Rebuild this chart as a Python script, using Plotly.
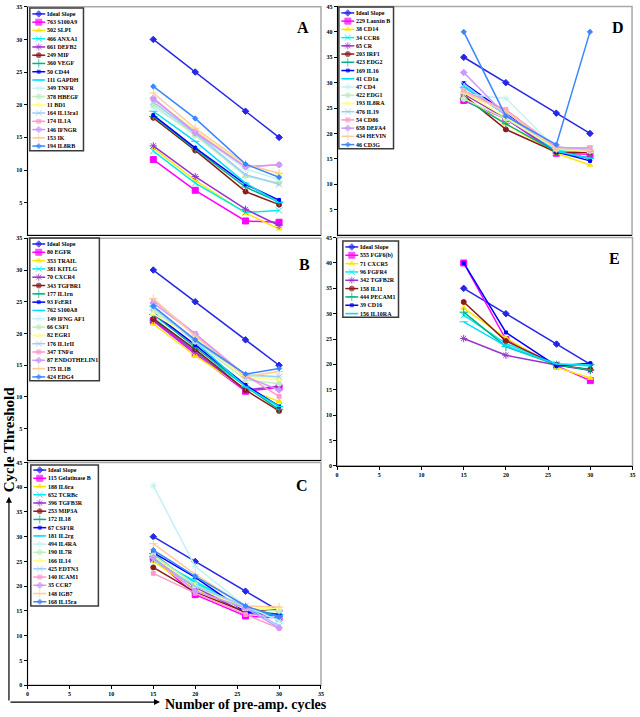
import plotly.graph_objects as go

# ---------------- data ----------------
cycles = [15, 20, 26, 30]

a_names = ["Ideal Slope", "763 S100A9", "502 SLPI", "466 ANXA1", "661 DEFB2", "249 MIF",
           "360 VEGF", "50 CD44", "111 GAPDH", "349 TNFR", "378 HBEGF", "11 BD1",
           "164 IL13ra1", "174 IL1A", "146 IFNGR", "153 IK", "194 IL8RB"]
a_values = [
    [30.0, 25.0, 19.0, 15.0],
    [11.6, 6.9, 2.2, 2.0],
    [13.4, 8.4, 3.4, 1.0],
    [12.9, 8.0, 3.5, 3.8],
    [13.7, 9.0, 4.0, 1.5],
    [18.0, 13.0, 6.7, 4.7],
    [18.2, 13.2, 7.4, 5.1],
    [18.4, 13.4, 7.8, 5.4],
    [19.0, 14.4, 8.0, 5.0],
    [19.6, 15.6, 10.2, 8.5],
    [20.0, 15.3, 9.1, 8.0],
    [20.9, 16.1, 10.8, 9.5],
    [20.4, 15.6, 9.3, 7.8],
    [20.8, 15.9, 10.5, 10.8],
    [21.0, 15.7, 10.5, 10.8],
    [21.8, 16.4, 10.9, 9.5],
    [22.8, 17.9, 10.9, 8.9],
]

b_names = ["Ideal Slope", "80 EGFR", "353 TRAIL", "381 KITLG", "70 CXCR4", "343 TGFBR1",
           "177 IL1rn", "93 FcERI", "762 S100A8", "149 IFNG AF1", "66 CSF1", "82 EGR1",
           "176 IL1rII", "347 TNFα", "87 ENDOTHELIN1", "175 IL1B", "424 EDG4"]
b_values = [
    [30.0, 25.0, 19.0, 15.0],
    [22.0, 16.8, 10.9, 11.5],
    [21.5, 16.5, 11.3, 9.3],
    [22.5, 17.3, 11.7, 8.6],
    [22.1, 17.1, 11.1, 11.7],
    [22.3, 17.5, 11.1, 7.8],
    [23.0, 17.9, 11.7, 8.0],
    [23.2, 18.2, 11.9, 8.5],
    [24.3, 18.7, 11.6, 8.5],
    [23.6, 19.0, 13.2, 13.2],
    [23.8, 18.7, 12.7, 12.1],
    [23.1, 19.1, 13.0, 12.8],
    [24.1, 18.8, 13.5, 13.2],
    [25.2, 20.0, 13.4, 10.1],
    [24.8, 19.9, 13.2, 11.1],
    [25.5, 19.6, 13.2, 14.0],
    [24.3, 19.0, 13.6, 14.5],
]

c_names = ["Ideal Slope", "115 Gelatinase B", "188 IL6ra", "652 TCRBc", "396 TGFB3R", "253 MIP3A",
           "172 IL18", "67 CSF1R", "181 IL2rg", "494 IL4RA", "190 IL7R", "166 IL14",
           "425 EDTN3", "140 ICAM1", "35 CCR7", "148 IGB7", "168 IL15ra"]
c_values = [
    [30.0, 25.0, 19.0, 15.0],
    [25.6, 18.3, 14.0, 13.6],
    [25.0, 19.3, 14.8, 15.5],
    [25.6, 21.0, 15.3, 13.3],
    [25.5, 19.8, 14.6, 14.0],
    [23.8, 18.8, 14.8, 15.3],
    [26.6, 20.0, 15.3, 14.3],
    [26.8, 21.8, 14.8, 14.3],
    [26.0, 20.6, 15.3, 14.0],
    [40.3, 24.0, 16.0, 13.0],
    [26.3, 20.3, 15.6, 15.0],
    [26.0, 20.0, 15.3, 15.6],
    [25.3, 20.0, 16.0, 12.0],
    [22.6, 18.6, 14.3, 11.5],
    [25.8, 19.0, 15.6, 11.6],
    [28.6, 22.4, 16.0, 15.8],
    [27.3, 22.0, 16.0, 13.8],
]

d_names = ["Ideal Slope", "229 Lauxin B", "38 CD14", "34 CCR6", "65 CR", "203 IRF1",
           "423 EDG2", "169 IL16", "41 CD1a", "47 CD4", "422 EDG1", "193 IL8RA",
           "476 IL19", "54 CD86", "658 DEFA4", "434 HEVIN", "46 CD3G"]
d_values = [
    [35.0, 30.0, 24.0, 20.0],
    [26.5, 22.9, 16.1, 15.9],
    [27.1, 21.9, 16.1, 13.8],
    [29.4, 23.6, 16.7, 17.0],
    [27.8, 22.9, 16.4, 15.1],
    [27.5, 20.8, 16.3, 16.3],
    [26.8, 21.9, 16.4, 15.1],
    [29.9, 24.1, 16.4, 14.6],
    [29.1, 23.7, 16.5, 15.1],
    [27.8, 26.9, 17.0, 16.7],
    [26.8, 22.9, 17.0, 16.7],
    [28.1, 23.2, 17.0, 16.4],
    [29.7, 23.6, 17.2, 17.0],
    [28.4, 24.7, 17.2, 17.2],
    [32.0, 23.6, 17.4, 16.7],
    [28.1, 24.3, 17.0, 16.7],
    [40.0, 23.4, 17.8, 40.0],
]

e_names = ["Ideal Slope", "555 FGF6(b)", "71 CXCR5", "96 FGFR4", "342 TGFB2R", "158 IL11",
           "444 PECAM1", "39 CD16", "156 IL10RA"]
e_values = [
    [35.0, 30.0, 24.0, 20.0],
    [40.0, 24.9, 19.7, 16.8],
    [31.1, 25.2, 19.4, 17.3],
    [29.7, 24.1, 20.1, 19.7],
    [25.1, 21.8, 19.9, 18.8],
    [32.3, 24.6, 19.9, 19.0],
    [30.3, 23.5, 19.9, 18.9],
    [40.0, 26.3, 19.7, 20.2],
    [28.4, 23.6, 20.1, 19.9],
]

y_ticks_35 = [5, 10, 15, 20, 25, 30, 35]
y_ticks_45_d = [5, 10, 15, 20, 25, 30, 35, 40, 45]
y_ticks_45 = [0, 5, 10, 15, 20, 25, 30, 35, 40, 45]
x_ticks = [0, 5, 10, 15, 20, 25, 30, 35]

# ---------------- styles ----------------
palette = ["#2626e6", "#ff00ff", "#ffe600", "#00eeee", "#9933cc", "#8b1a1a",
           "#00b386", "#0000ff", "#00dcff", "#c4f2f2", "#bfefbf", "#ffff88",
           "#99ccff", "#ff99cc", "#cc99ff", "#ffcc99", "#3a86ff"]
symbols = ["diamond", "square", "triangle-up", "x-thin", "asterisk", "circle",
           "cross-thin", "square", "line-ew", "asterisk", "circle", "triangle-up",
           "x-thin", "square", "diamond", "cross-thin", "diamond"]
sizes = [5, 6, 5, 6, 6, 5, 6, 3, 6, 6, 5, 5, 6, 4, 5, 6, 4]

SERIF = "Liberation Serif"
tickfont = dict(family=SERIF, size=6, color="black", weight="bold")

panels = [
    dict(letter="A", names=a_names, values=a_values, n=1,
         xdom=[26.7, 322.0], ydom=[234.3, 3.8], yr=35, yt=y_ticks_35, xlabels=False,
         leg=(29, 5, 83, 149), leg_first=11, leg_step=8.33, let=(304, 25)),
    dict(letter="B", names=b_names, values=b_values, n=2,
         xdom=[26.7, 322.0], ydom=[461.3, 237.3], yr=35, yt=y_ticks_35, xlabels=False,
         leg=(29, 237, 99, 381), leg_first=243, leg_step=8.38, let=(305, 264)),
    dict(letter="C", names=c_names, values=c_values, n=3,
         xdom=[26.7, 322.0], ydom=[688.0, 463.3], yr=45, yt=y_ticks_45, xlabels=True,
         leg=(30, 466, 98, 608), leg_first=471, leg_step=8.3, let=(303, 487)),
    dict(letter="D", names=d_names, values=d_values, n=4,
         xdom=[338.7, 635.0], ydom=[234.0, 3.5], yr=45, yt=y_ticks_45_d, xlabels=False,
         leg=(340, 4, 395, 147), leg_first=10, leg_step=8.3, let=(621, 25)),
    dict(letter="E", names=e_names, values=e_values, n=5,
         xdom=[338.2, 635.5], ydom=[466.7, 236.6], yr=45, yt=y_ticks_45, xlabels=True,
         leg=(344, 240, 400, 317), leg_first=246, leg_step=8.4, let=(617, 258)),
]

W, H = 640, 717
fig = go.Figure()
layout = dict(width=W, height=H, margin=dict(l=0, r=0, t=0, b=0),
              paper_bgcolor="white", plot_bgcolor="rgba(0,0,0,0)", showlegend=False)
shapes = []
annotations = []

for p in panels:
    n = p["n"]
    xa = "x" if n == 1 else f"x{n}"
    ya = "y" if n == 1 else f"y{n}"
    xkey = "xaxis" if n == 1 else f"xaxis{n}"
    ykey = "yaxis" if n == 1 else f"yaxis{n}"
    for i, (name, vals) in enumerate(zip(p["names"], p["values"])):
        fig.add_trace(go.Scatter(
            x=cycles, y=vals, name=name, xaxis=xa, yaxis=ya, mode="lines+markers",
            line=dict(color=palette[i], width=1.5),
            marker=dict(symbol=symbols[i], size=sizes[i], color=palette[i],
                        line=dict(color=palette[i], width=1))))
    layout[xkey] = dict(domain=[p["xdom"][0] / W, p["xdom"][1] / W], range=[0, 35],
                        anchor=ya, showline=True, linecolor="black", linewidth=1,
                        showgrid=False, zeroline=False,
                        tickvals=x_ticks if p["xlabels"] else [],
                        ticks="outside" if p["xlabels"] else "", ticklen=3,
                        tickcolor="black", showticklabels=p["xlabels"], tickfont=tickfont)
    layout[ykey] = dict(domain=[1 - p["ydom"][0] / H, 1 - p["ydom"][1] / H], range=[0, p["yr"]],
                        anchor=xa, showline=True, linecolor="black", linewidth=1,
                        showgrid=False, zeroline=False, tickvals=p["yt"],
                        ticks="outside", ticklen=3, tickcolor="black", tickfont=tickfont)
    # plot-area grey frame
    shapes.append(dict(type="rect", xref=f"{xa} domain", yref=f"{ya} domain",
                       x0=0, x1=1, y0=0, y1=1, line=dict(color="#a8a8a8", width=1.5),
                       layer="below"))
    # legend box
    L, T, R, B = p["leg"]
    shapes.append(dict(type="rect", xref="x6", yref="y6", x0=L, x1=R, y0=T, y1=B,
                       line=dict(color="#3a3a3a", width=1.5), layer="above"))
    for i, name in enumerate(p["names"]):
        yy = p["leg_first"] + i * p["leg_step"]
        fig.add_trace(go.Scatter(
            x=[L + 2.5, L + 9, L + 15.5], y=[yy, yy, yy], xaxis="x6", yaxis="y6",
            mode="lines+markers", hoverinfo="skip",
            line=dict(color=palette[i], width=1.5),
            marker=dict(symbol=symbols[i], size=[0, sizes[i], 0], color=palette[i],
                        line=dict(color=palette[i], width=[0, 1, 0]))))
        annotations.append(dict(xref="x6", yref="y6", x=L + 15.5, y=yy, text=name,
                                showarrow=False, xanchor="left", yanchor="middle",
                                font=dict(family=SERIF, size=6, color="black", weight="bold")))
    annotations.append(dict(xref="x6", yref="y6", x=p["let"][0], y=p["let"][1], text=p["letter"],
                            showarrow=False, xanchor="center", yanchor="middle",
                            font=dict(family=SERIF, size=16, color="black", weight="bold")))

layout["xaxis6"] = dict(domain=[0, 1], range=[0, W], visible=False, anchor="y6", fixedrange=True)
layout["yaxis6"] = dict(domain=[0, 1], range=[H, 0], visible=False, anchor="x6", fixedrange=True)

# overall axis titles with arrows
annotations.append(dict(xref="x6", yref="y6", x=8, y=440, text="Cycle Threshold", textangle=-90,
                        showarrow=False, xanchor="center", yanchor="middle",
                        font=dict(family=SERIF, size=15, color="black", weight="bold")))
annotations.append(dict(xref="x6", yref="y6", x=163, y=707, text="Number of pre-amp. cycles",
                        showarrow=False, xanchor="left", yanchor="middle",
                        font=dict(family=SERIF, size=14, color="black", weight="bold")))
annotations.append(dict(xref="x6", yref="y6", axref="x6", ayref="y6", x=8, y=498, ax=8, ay=705,
                        text="", showarrow=True, arrowhead=2, arrowsize=1, arrowwidth=1.2,
                        arrowcolor="black"))
annotations.append(dict(xref="x6", yref="y6", axref="x6", ayref="y6", x=160, y=705, ax=8, ay=705,
                        text="", showarrow=True, arrowhead=2, arrowsize=1, arrowwidth=1.2,
                        arrowcolor="black"))

layout["shapes"] = shapes
layout["annotations"] = annotations
fig.update_layout(**layout)
fig.write_html("out.html", config={"displayModeBar": False, "staticPlot": True},
               post_script="document.body.style.margin='0';document.body.style.overflow='hidden';")
